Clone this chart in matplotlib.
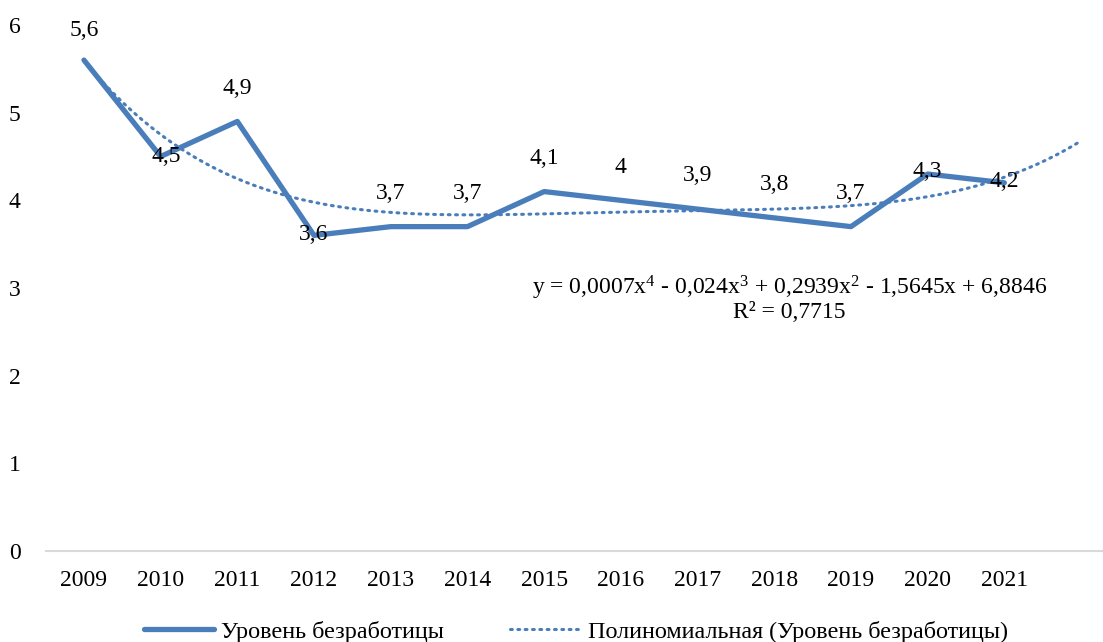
import matplotlib.pyplot as plt
import numpy as np

years = ['2009', '2010', '2011', '2012', '2013', '2014', '2015',
         '2016', '2017', '2018', '2019', '2020', '2021']
unemployment = [5.6, 4.5, 4.9, 3.6, 3.7, 3.7, 4.1, 4.0, 3.9, 3.8, 3.7, 4.3, 4.2]
labels = ['5,6', '4,5', '4,9', '3,6', '3,7', '3,7', '4,1', '4', '3,9', '3,8', '3,7', '4,3', '4,2']
# label offsets in points (dx, dy)
offsets = [(0, 21), (4, 0), (0, 24), (0, 1), (0, 24), (0, 24), (0, 24),
           (0, 24), (0, 24), (0, 24), (0, 24), (0, 2), (0, 1)]

plt.rcParams['font.family'] = ['Liberation Serif', 'DejaVu Serif']
plt.rcParams['mathtext.default'] = 'regular'
fs = 17
blue = '#4a7ebb'

fig = plt.figure(figsize=(11.03, 6.42), dpi=100)
ax = fig.add_axes([45.6 / 1103, 91 / 642, 1073.8 / 1103, 526 / 642])

x = np.arange(1, len(years) + 1)
ax.plot(x, unemployment, color=blue, lw=3.8, solid_capstyle='round',
        solid_joinstyle='round', label='Уровень безработицы')

# polynomial trend (4th degree), forecast one period ahead
coef = np.polyfit(x, unemployment, 4)
xt = np.linspace(1, len(years) + 1, 300)
ax.plot(xt, np.polyval(coef, xt), color=blue, lw=2.2, ls=(0, (0.6, 1.8)),
        dash_capstyle='round', label='Полиномиальная (Уровень безработицы)')

for xi, yi, lab, (dx, dy) in zip(x, unemployment, labels, offsets):
    ax.annotate(lab, (xi, yi), xytext=(dx, dy), textcoords='offset points',
                ha='center', va='center', fontsize=fs)

ax.text(10.2, 3.0, 'y = 0,0007x$^4$ - 0,024x$^3$ + 0,2939x$^2$ - 1,5645x + 6,8846',
        ha='center', va='center', fontsize=fs)
ax.text(10.2, 2.72, 'R² = 0,7715', ha='center', va='center', fontsize=fs)

ax.set_xlim(0.5, len(years) + 1.5)
ax.set_ylim(0, 6)
ax.set_xticks(x)
ax.set_xticklabels(years, fontsize=fs)
ax.set_yticks(range(0, 7))
ax.set_yticklabels([str(i) for i in range(0, 7)], fontsize=fs)
ax.tick_params(length=0, pad=14)
ax.tick_params(axis='y', pad=18)
for s in ['top', 'right', 'left']:
    ax.spines[s].set_visible(False)
ax.spines['bottom'].set_color('#d9d9d9')
ax.spines['bottom'].set_linewidth(1.5)

fig.legend(loc='lower center', bbox_to_anchor=(0.522, -0.035), ncol=2,
           frameon=False, fontsize=17.4, handlelength=2.9, handletextpad=0.3,
           columnspacing=2.75)

fig.savefig('out.png', dpi=100)
